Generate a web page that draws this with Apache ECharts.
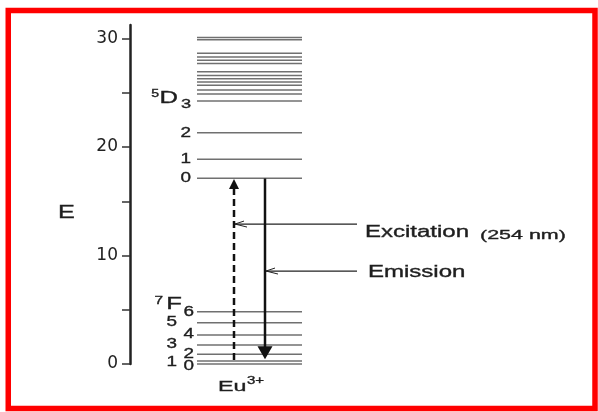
<!DOCTYPE html>
<html><head><meta charset="utf-8">
<script src="https://cdn.jsdelivr.net/npm/echarts@6/dist/echarts.min.js"></script>
<style>html,body{margin:0;padding:0;background:#fff}#c{width:598px;height:412px}</style>
</head><body><div id="c"></div>
<script>
// ---------------- data ----------------
const energyTicks = [0, 5, 10, 15, 20, 25, 30];
const energyTickLabels = [0, 10, 20, 30];
const axisName = 'E';
const groundLevels = [0, 0.28, 0.9, 1.75, 2.67, 3.8, 4.82];      // 7F0 .. 7F6
const groundLabels = ['0', '1', '2', '3', '4', '5', '6'];
const excitedLevels = [17.12, 18.87, 21.32];                      // 5D0 .. 5D2
const excitedLabels = ['0', '1', '2'];
const upperLevels = [24.25, 24.9, 25.25, 25.7, 26.0, 26.3, 26.6, 26.95, 27.7, 28.0, 28.3, 28.65, 29.9, 30.1];
const excitationArrow = [0.37, 17.05];   // from, to
const emissionArrow = [17.1, 0.43];      // from, to
const ionName = 'Eu';
const ionCharge = '3+';
const excitationText = 'Excitation';
const excitationNote = '(254 nm)';
const emissionText = 'Emission';

// ---------------- layout / style ----------------
const FONT = '"Liberation Sans", Arial, sans-serif';
const TXT = '#1e1e1e';
const LEVEL_COLOR = '#707070';
const LEVEL_X0 = 67, LEVEL_X1 = 172;      // x extent of level lines (axis units)
const ARROW_X = [104, 135];
const ARROW_DASH = [[7, 4], null];
const HEAD_LEN = [10, 13], HEAD_W = [10, 15];
const POINTER_E = [12.9, 8.57];
const POINTER_END = 227;
const POINTER_TEXT_X = [235, 238];

function txt(s, x, y, size, align, sx, fill) {
  return {
    type: 'text', x: x, y: y, scaleX: sx || 1, silent: true,
    style: { text: s, x: 0, y: 0, fill: fill || TXT, font: size + 'px ' + FONT,
      stroke: fill || TXT, lineWidth: 0.35,
      align: align, textAlign: align, verticalAlign: 'middle', textVerticalAlign: 'middle' }
  };
}
function hline(a, b) {
  return { type: 'line', silent: true, shape: { x1: a[0], y1: a[1], x2: b[0], y2: b[1] },
    style: { stroke: LEVEL_COLOR, lineWidth: 1.5 } };
}

function levelSeries(values, labelFn) {
  return {
    type: 'custom', coordinateSystem: 'cartesian2d', silent: true,
    data: values.map(v => [v]), encode: { y: 0 },
    renderItem: function (params, api) {
      const e = api.value(0);
      const a = api.coord([LEVEL_X0, e]), b = api.coord([LEVEL_X1, e]);
      const children = [hline(a, b)];
      if (labelFn) labelFn(params.dataIndex, a, children);
      return { type: 'group', children: children };
    }
  };
}

const upperSeries = levelSeries(upperLevels, function (i, a, ch) {
  if (i !== 0) return;
  const x = a[0], y = a[1];
  ch.push(txt('5', x - 38, y - 7, 10, 'right', 1.4));
  ch.push(txt('D', x - 19, y - 2, 16, 'right', 1.6));
  ch.push(txt('3', x - 6, y + 3, 13, 'right', 1.4));
});
const excitedSeries = levelSeries(excitedLevels, function (i, a, ch) {
  ch.push(txt(excitedLabels[i], a[0] - 6, a[1], 14, 'right', 1.35));
});
const groundSeries = levelSeries(groundLevels, function (i, a, ch) {
  const even = i % 2 === 0;
  const dy = [2.3, 1, 0, -1, -1, -1, 0][i];
  ch.push(txt(groundLabels[i], a[0] - (even ? 3 : 20), a[1] + dy, 14, 'right', 1.35));
  if (i === groundLevels.length - 1) {
    ch.push(txt('F', a[0] - 15, a[1] - 7, 16, 'right', 1.6));
    ch.push(txt('7', a[0] - 34, a[1] - 11, 11, 'right', 1.4));
  }
});

const arrowSeries = {
  type: 'custom', coordinateSystem: 'cartesian2d', silent: true,
  data: [excitationArrow, emissionArrow], encode: { y: [0, 1] },
  renderItem: function (params, api) {
    const i = params.dataIndex;
    const x = ARROW_X[i];
    const p0 = api.coord([x, api.value(0)]), p1 = api.coord([x, api.value(1)]);
    const dir = p1[1] > p0[1] ? 1 : -1;
    const baseY = p1[1] - dir * HEAD_LEN[i];
    const ch = [];
    ch.push({ type: 'line', shape: { x1: p0[0], y1: p0[1], x2: p0[0], y2: baseY + dir * 1 },
      style: { stroke: '#111', lineWidth: 2.5, lineDash: ARROW_DASH[i] } });
    ch.push({ type: 'polygon', shape: { points: [[p1[0], p1[1]], [p1[0] - HEAD_W[i] / 2, baseY], [p1[0] + HEAD_W[i] / 2, baseY]] },
      style: { fill: '#111' } });
    // pointer
    const c = api.coord([x, POINTER_E[i]]), e = api.coord([POINTER_END, POINTER_E[i]]);
    const tipX = c[0] + 1;
    ch.push({ type: 'line', shape: { x1: tipX, y1: c[1], x2: e[0], y2: e[1] }, style: { stroke: '#222', lineWidth: 1.3 } });
    ch.push({ type: 'polyline', shape: { points: [[tipX + 9, c[1] - 3], [tipX, c[1]], [tipX + 12, c[1] + 3]] },
      style: { stroke: '#222', lineWidth: 1, fill: null } });
    const t = api.coord([POINTER_TEXT_X[i], POINTER_E[i]]);
    if (i === 0) {
      ch.push(txt(excitationText, t[0], t[1] + 9, 16, 'left', 1.5));
      ch.push(txt(excitationNote, t[0] + 115, t[1] + 11, 13, 'left', 1.65));
    } else {
      ch.push(txt(emissionText, t[0], t[1] + 2, 16, 'left', 1.5));
    }
    return { type: 'group', children: ch };
  }
};

const chart = echarts.init(document.getElementById('c'));
chart.setOption({
  backgroundColor: '#fff',
  animation: false,
  grid: { left: 130, right: 0, top: 25, bottom: 48 },
  xAxis: { type: 'value', min: 0, max: 468, show: false },
  yAxis: {
    type: 'value', min: 0, max: 31.25,
    axisLine: { show: true, lineStyle: { color: '#222', width: 2.5 } },
    axisTick: { show: true, customValues: energyTicks, length: 8, inside: false, lineStyle: { color: '#333', width: 1.5 } },
    axisLabel: { customValues: energyTickLabels, margin: 12, fontSize: 17, fontFamily: 'DejaVu Sans', color: '#222' },
    splitLine: { show: false }
  },
  series: [upperSeries, excitedSeries, groundSeries, arrowSeries],
  graphic: [
    { type: 'rect', silent: true, z: 100, shape: { x: 8.25, y: 10.5, width: 586.75, height: 398 },
      style: { fill: 'none', stroke: '#ff0000', lineWidth: 5.5 } },
    { type: 'text', x: 58, y: 213, scaleX: 1.4, silent: true,
      style: { text: axisName, x: 0, y: 0, font: '18px ' + FONT, fill: TXT, stroke: TXT, lineWidth: 0.35, textAlign: 'left', textVerticalAlign: 'middle', align: 'left', verticalAlign: 'middle' } },
    { type: 'text', x: 218, y: 387, scaleX: 1.55, silent: true,
      style: { text: ionName, x: 0, y: 0, font: '15px ' + FONT, fill: TXT, stroke: TXT, lineWidth: 0.35, textAlign: 'left', textVerticalAlign: 'middle', align: 'left', verticalAlign: 'middle' } },
    { type: 'text', x: 247, y: 381, scaleX: 1.5, silent: true,
      style: { text: ionCharge, x: 0, y: 0, font: '10px ' + FONT, fill: TXT, stroke: TXT, lineWidth: 0.35, textAlign: 'left', textVerticalAlign: 'middle', align: 'left', verticalAlign: 'middle' } }
  ]
});
</script></body></html>
